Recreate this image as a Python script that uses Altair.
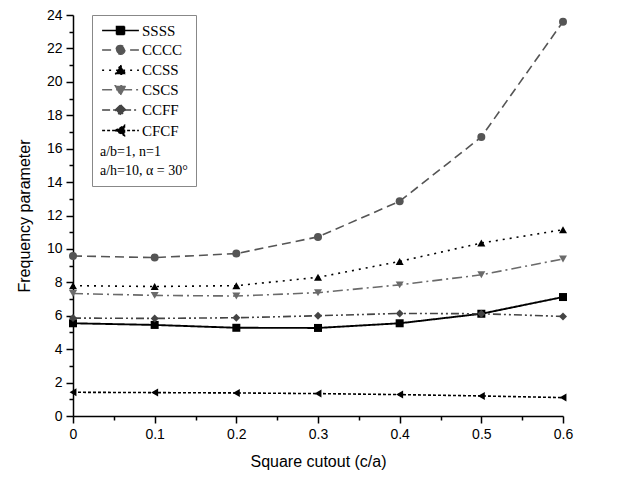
import altair as alt
import pandas as pd

cutout = [0.0, 0.1, 0.2, 0.3, 0.4, 0.5, 0.6]
series_names = ["SSSS", "CCCC", "CCSS", "CSCS", "CCFF", "CFCF"]
SSSS = [5.55, 5.45, 5.28, 5.27, 5.55, 6.12, 7.12]
CCCC = [9.58, 9.48, 9.72, 10.72, 12.85, 16.7, 23.6]
CCSS = [7.8, 7.75, 7.8, 8.3, 9.25, 10.35, 11.15]
CSCS = [7.33, 7.22, 7.18, 7.38, 7.85, 8.45, 9.4]
CCFF = [5.86, 5.84, 5.88, 6.0, 6.14, 6.12, 5.96]
CFCF = [1.42, 1.4, 1.38, 1.34, 1.28, 1.2, 1.1]
values = [SSSS, CCCC, CCSS, CSCS, CCFF, CFCF]

marker_colors = ["#000000", "#555555", "#000000", "#6a6a6a", "#444444", "#000000"]
line_colors = ["#000000", "#555555", "#000000", "#6a6a6a", "#444444", "#000000"]
dashes = [[1, 0], [9, 5], [2, 5], [10, 4, 2, 4], [8, 3, 2, 3, 2, 3], [3, 2]]
line_widths = [1.9, 1.6, 1.6, 1.6, 1.6, 1.6]
shapes = ["square", "circle", "triangle-up", "triangle-down", "diamond", "triangle-left"]
legend_paths = [
    "M-4.6,0H4.6M-1,-1H1V1H-1Z",
    "M-4.6,0H4.6M1.1,0A1.1,1.1 0 1,1 -1.1,0A1.1,1.1 0 1,1 1.1,0Z",
    "M-4.6,0H4.6M0,-1.3L1.3,1H-1.3Z",
    "M-4.6,0H4.6M0,1.3L1.3,-1H-1.3Z",
    "M-4.6,0H4.6M0,-1.3L1.3,0L0,1.3L-1.3,0Z",
    "M-4.6,0H4.6M-1.3,0L1,-1.3V1.3Z",
]

rows = []
for name, vals in zip(series_names, values):
    for xv, yv in zip(cutout, vals):
        rows.append({"series": name, "x": xv, "y": yv})
df = pd.DataFrame(rows)

x_ticks = [round(i * 0.05, 2) for i in range(13)]
y_ticks = list(range(25))

x_enc = alt.X(
    "x:Q",
    scale=alt.Scale(domain=[0, 0.6], nice=False),
    axis=alt.Axis(
        title="Square cutout (c/a)",
        values=x_ticks,
        labelExpr="abs(datum.value*10 - round(datum.value*10)) < 0.001 ? (datum.value == 0 ? '0' : format(datum.value, '.1f')) : ''",
        tickSize={"condition": {"test": "abs(datum.value*10 - round(datum.value*10)) < 0.001", "value": 7}, "value": 4},
        labelFlush=False,
        labelOverlap=False,
        labelPadding=4,
        titlePadding=12,
    ),
)
y_enc = alt.Y(
    "y:Q",
    scale=alt.Scale(domain=[0, 24], nice=False),
    axis=alt.Axis(
        title="Frequency parameter",
        values=y_ticks,
        labelExpr="datum.value % 2 == 0 ? datum.label : ''",
        tickSize={"condition": {"test": "datum.value % 2 == 0", "value": 7}, "value": 4},
        labelOverlap=False,
        labelPadding=4,
        titlePadding=14,
    ),
)

base = alt.Chart(df).encode(x=x_enc, y=y_enc)

line_layers = []
point_layers = []
for name, shp, mcol, lcol, dash, lw in zip(series_names, shapes, marker_colors, line_colors, dashes, line_widths):
    sub = base.transform_filter(alt.datum.series == name)
    line_layers.append(sub.mark_line(strokeWidth=lw, color=lcol, strokeDash=dash))
    point_layers.append(sub.mark_point(filled=True, size=64, opacity=1, shape=shp, color=mcol))

legend_cfg = alt.Legend(
    title=["a/b=1, n=1", "a/h=10, α = 30°"],
    titleOrient="bottom",
    titleAnchor="start",
    titleFont="Liberation Serif",
    titleFontSize=14,
    titleFontWeight="normal",
    titleColor="black",
    titleLineHeight=19,
    titlePadding=6,
    labelFont="Liberation Serif",
    labelFontSize=15,
    labelColor="black",
    labelOffset=14,
    symbolOffset=13,
    symbolSize=64,
    symbolStrokeWidth=1.5,
    symbolOpacity=1,
    rowPadding=3.4,
    orient="none",
    legendX=19,
    legendY=0,
    strokeColor="#888888",
    fillColor="white",
    padding=8,
)

legend_layer = base.mark_point(filled=True, opacity=0, size=64).encode(
    fill=alt.Fill("series:N", scale=alt.Scale(domain=series_names, range=marker_colors), legend=legend_cfg),
    stroke=alt.Stroke("series:N", scale=alt.Scale(domain=series_names, range=line_colors), legend=legend_cfg),
    shape=alt.Shape("series:N", scale=alt.Scale(domain=series_names, range=legend_paths), legend=legend_cfg),
    strokeDash=alt.StrokeDash("series:N", scale=alt.Scale(domain=series_names, range=dashes), legend=legend_cfg),
)

chart = (
    alt.layer(*line_layers, *point_layers, legend_layer)
    .properties(width=490, height=401, padding={"left": 8, "top": 0, "right": 5, "bottom": 5})
    .configure_view(stroke=None)
    .configure_axis(
        grid=False,
        domainColor="black",
        domainWidth=1.5,
        tickColor="black",
        tickWidth=1.5,
        labelFont="Liberation Sans",
        labelFontSize=14,
        labelColor="black",
        titleFont="Liberation Sans",
        titleFontSize=16,
        titleFontWeight="normal",
        titleColor="black",
    )
)

chart.save("out.html", embed_options={"renderer": "svg", "actions": False})
